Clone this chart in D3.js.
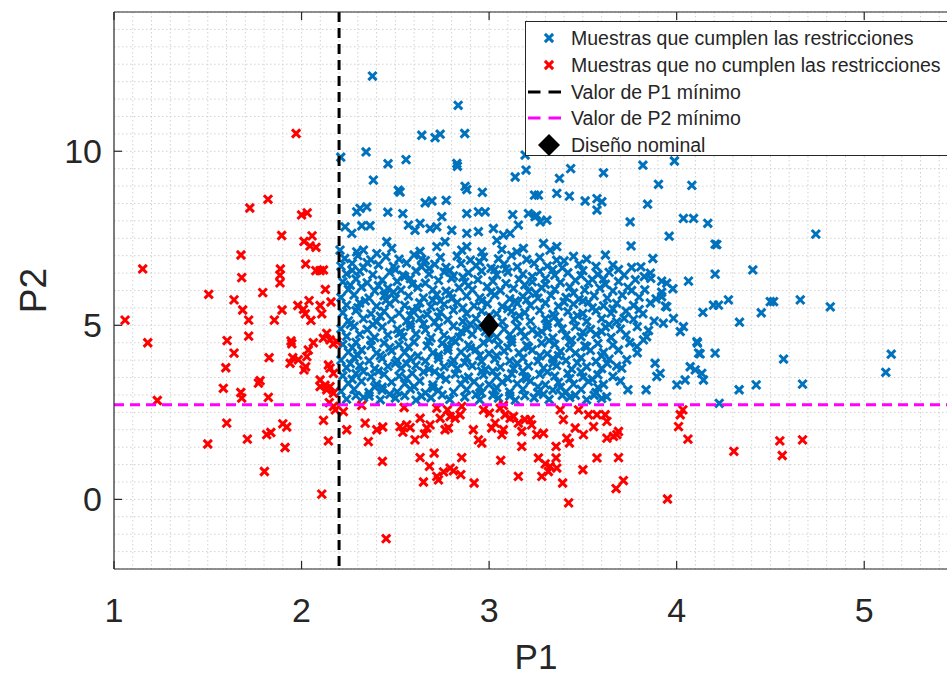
<!DOCTYPE html>
<html><head><meta charset="utf-8">
<script src="https://cdn.jsdelivr.net/npm/d3@7"></script>
<style>
body{margin:0;background:#fff}
svg{display:block}
text{font-family:"Liberation Sans",Arial,Helvetica,sans-serif;fill:#262626}
</style>
</head><body>
<svg id="c" width="947" height="678"></svg>
<script>
// ---------- data ----------
const xTicks = [1, 2, 3, 4, 5];
const yTicks = [0, 5, 10];
const xLabel = "P1";
const yLabel = "P2";
const p1Min = 2.2;
const p2Min = 2.72;
const nominal = [3, 5];
const legendLabels = [
  "Muestras que cumplen las restricciones",
  "Muestras que no cumplen las restricciones",
  "Valor de P1 mínimo",
  "Valor de P2 mínimo",
  "Diseño nominal"
];

// samples that violate the constraints (P1, P2)
const redPts = [
[1.971,10.51],[1.821,8.62],[1.724,8.37],[2.0,8.17],[2.03,8.23],[1.894,7.58],[2.056,7.57],[2.013,7.41],[2.045,7.28],[2.077,7.24],
[1.677,7.02],[2.022,6.76],[1.153,6.62],[1.887,6.62],[1.885,6.44],[1.885,6.22],[2.076,6.57],[2.099,6.57],[2.117,6.59],[1.681,6.37],
[1.505,5.89],[1.793,5.94],[1.64,5.73],[2.127,6.03],[2.157,5.67],[1.686,5.44],[1.718,5.15],[1.896,5.44],[1.855,5.15],[1.98,5.57],
[2.01,5.46],[2.04,5.71],[2.02,5.33],[2.05,5.14],[2.099,5.57],[2.108,5.33],[1.059,5.15],[1.718,4.69],[1.18,4.50],[1.603,4.56],
[1.64,4.20],[1.596,3.78],[1.944,4.55],[1.948,4.47],[1.827,4.07],[1.953,4.07],[1.939,3.91],[1.983,4.01],[2.028,4.10],[2.022,3.81],
[2.013,3.72],[2.036,4.29],[2.063,4.50],[2.134,4.77],[2.116,4.63],[2.152,4.58],[2.17,4.47],[2.188,4.53],[2.143,3.86],[2.152,3.77],
[2.17,3.62],[1.583,3.19],[1.779,3.41],[1.77,3.34],[1.676,3.07],[1.681,2.91],[1.823,2.93],[1.231,2.84],[2.099,3.43],[2.125,3.28],
[2.152,3.24],[2.099,3.24],[2.134,3.15],[2.17,3.05],[2.148,2.78],[2.17,2.67],
[1.50,1.59],[1.601,2.19],[1.711,1.73],[1.802,0.80],[1.814,1.86],[1.836,1.92],[1.90,2.17],[1.921,2.08],[1.912,1.49],[2.108,0.15],
[2.117,2.27],[2.143,1.68],[2.18,2.57],[2.223,2.52],[2.241,2.0],[2.321,2.70],[2.339,2.19],[2.356,1.66],[2.401,2.0],[2.433,2.08],
[2.431,1.09],[2.451,-1.13],[2.547,2.64],[2.525,2.09],[2.561,2.14],[2.54,1.93],[2.579,2.06],[2.605,1.71],[2.632,2.33],[2.668,2.05],
[2.655,1.88],[2.685,2.14],[2.632,1.20],[2.65,0.50],[2.682,0.95],[2.707,1.33],[2.721,2.62],[2.739,2.33],[2.765,2.0],[2.783,2.05],
[2.721,0.66],[2.73,0.56],[2.757,0.79],[2.792,0.90],[2.81,0.82],[2.849,0.71],[2.778,2.57],[2.792,2.38],[2.819,2.33],[2.845,2.43],
[2.854,2.67],[2.854,1.20],[2.92,0.47],[2.916,2.0],[2.943,1.71],[2.961,1.62],[2.97,2.57],[3.002,2.48],[3.014,2.05],[3.032,2.19],
[3.062,1.12],[3.068,1.86],[3.076,2.0],[3.059,2.62],[3.076,2.70],[3.085,2.43],[3.112,2.33],[3.13,2.38],[3.156,0.66],[3.156,2.19],
[3.174,1.95],[3.192,2.29],[3.174,1.52],[3.219,2.29],[3.227,2.14],[3.254,1.86],[3.29,1.90],[3.263,1.19],[3.299,1.02],[3.325,0.95],
[3.357,1.19],[3.361,0.90],[3.316,0.80],[3.281,0.66],[3.357,1.52],[3.379,2.57],[3.396,2.29],[3.392,0.47],[3.424,-0.10],[3.414,1.76],
[3.428,1.62],[3.459,2.05],[3.477,2.57],[3.503,1.86],[3.53,2.43],[3.557,2.09],[3.575,2.43],[3.50,0.85],[3.575,1.19],[3.619,2.43],
[3.628,2.24],[3.628,1.76],[3.663,1.81],[3.681,1.86],[3.69,1.95],[3.69,1.20],[3.677,0.31],[3.716,0.54],[3.951,0.01],[4.01,2.09],
[4.019,2.43],[4.033,2.57],[4.06,1.73],[4.305,1.38],[4.55,1.68],[4.563,1.26],[4.671,1.71]
];

// samples that satisfy the constraints: outer, sparse ones
const blueOuter = [
[2.378,12.16],[2.835,11.32],[2.641,10.46],[2.712,10.39],[2.739,10.49],[2.87,10.51],[2.209,9.83],[2.344,9.98],[2.461,9.64],[2.557,9.76],
[2.828,9.65],[2.831,9.57],[2.383,9.17],[2.516,8.88],[2.525,8.83],[2.872,8.99],[2.881,8.90],[2.964,8.82],[3.139,9.26],[3.197,9.46],
[3.192,9.89],[3.242,8.74],[3.263,8.74],[3.361,8.79],[2.312,8.36],[2.348,8.40],[2.294,8.26],[2.46,8.25],[2.54,8.21],[2.659,8.52],
[2.695,8.57],[2.771,8.59],[2.881,8.21],[2.943,8.26],[2.979,8.26],[3.126,8.18],[3.21,8.21],[3.254,8.16],[3.308,8.02],[2.232,7.83],
[2.268,7.64],[2.321,7.86],[2.365,7.86],[2.57,7.88],[2.605,7.73],[2.632,7.93],[2.685,7.78],[2.721,7.83],[2.748,8.12],[2.801,7.73],
[2.881,7.64],[2.943,7.69],[3.023,7.78],[3.076,7.59],[3.112,7.64],[3.156,7.88],
[2.205,7.16],[2.294,7.11],[2.33,7.16],[2.401,7.06],[2.454,7.40],[2.481,7.21],[2.632,7.12],[2.721,7.26],[2.765,7.40],[2.854,7.16],
[2.881,7.26],[2.961,7.11],[3.041,7.44],[3.068,7.18],[3.148,7.11],[3.183,7.21],[3.29,7.35],[3.325,7.16],[3.361,7.26],
[3.375,9.22],[3.435,9.50],[3.61,9.38],[3.82,9.60],[3.988,9.72],[3.903,9.05],[4.081,9.02],[3.428,8.71],[3.512,8.57],[3.575,8.64],
[3.601,8.55],[3.575,8.31],[3.845,8.48],[3.245,8.12],[3.272,7.97],[3.752,7.97],[4.036,8.07],[4.09,8.07],[4.166,7.93],[3.96,7.56],
[3.757,7.28],[4.205,7.33],[3.873,6.92],[3.809,6.68],[3.827,6.40],[3.862,6.35],[3.92,6.27],[3.947,6.21],[4.063,6.27],[4.205,6.47],
[3.92,5.82],[4.196,5.58],[4.223,5.58],[4.14,5.37],[3.983,5.20],[4.036,4.96],[4.019,4.82],[3.947,5.53],[3.929,5.06],[4.108,4.53],
[4.117,4.20],[4.205,4.20],[3.885,3.91],[3.894,3.53],[3.912,3.62],[4.001,3.29],[4.045,3.43],[4.072,3.81],[4.099,3.72],[4.134,3.62],
[4.143,3.43],[3.837,3.15],[3.627,2.95],[3.734,4.01],[3.707,3.77],[3.788,4.39],[3.823,4.58],
[4.742,7.62],[4.406,6.59],[4.276,5.73],[4.499,5.68],[4.517,5.68],[4.659,5.73],[4.819,5.53],[4.451,5.36],[4.335,5.09],[4.111,4.49],
[4.125,4.18],[4.57,4.03],[4.333,3.15],[4.424,3.29],[4.671,3.31],[4.227,2.76],[5.115,3.65],[5.144,4.17],[4.214,7.32]
];

// samples that satisfy the constraints: dense central cloud
const blueCore = [
[2.23,6.92],[2.30,7.00],[2.37,6.88],[2.45,6.97],[2.52,6.90],[2.60,7.02],[2.66,6.86],[2.74,6.95],[2.83,6.99],[2.90,6.87],[2.97,6.96],[3.05,6.91],[3.12,7.01],[3.20,6.89],[3.27,6.95],[3.36,6.87],[3.45,6.98],[3.52,6.90],[3.62,7.02],
[2.21,6.70],[2.27,6.78],[2.33,6.66],[2.41,6.74],[2.49,6.69],[2.56,6.79],[2.64,6.68],[2.71,6.75],[2.77,6.66],[2.85,6.77],[2.93,6.71],[3.01,6.64],[3.08,6.76],[3.15,6.68],[3.24,6.78],[3.31,6.70],[3.39,6.65],[3.48,6.76],[3.57,6.69],[3.66,6.73],[3.76,6.66],
[2.24,6.48],[2.31,6.55],[2.38,6.45],[2.47,6.52],[2.54,6.44],[2.61,6.56],[2.68,6.47],[2.76,6.53],[2.81,6.42],[2.89,6.51],[2.96,6.56],[3.04,6.45],[3.10,6.53],[3.18,6.47],[3.27,6.55],[3.35,6.44],[3.42,6.51],[3.50,6.57],[3.58,6.46],[3.64,6.52],[3.72,6.44],[3.86,6.50],
[2.22,6.25],[2.29,6.33],[2.35,6.22],[2.43,6.30],[2.51,6.26],[2.58,6.34],[2.66,6.21],[2.73,6.29],[2.80,6.35],[2.87,6.24],[2.94,6.31],[3.02,6.27],[3.09,6.20],[3.16,6.32],[3.23,6.25],[3.30,6.34],[3.38,6.23],[3.46,6.29],[3.53,6.22],[3.61,6.33],[3.69,6.26],[3.78,6.31],
[2.25,6.03],[2.32,6.10],[2.39,5.99],[2.46,6.07],[2.53,6.01],[2.62,6.09],[2.70,6.02],[2.77,5.98],[2.84,6.08],[2.91,6.02],[2.99,6.11],[3.06,6.00],[3.13,6.06],[3.21,5.98],[3.28,6.08],[3.35,6.03],[3.43,6.10],[3.51,6.01],[3.59,6.07],[3.66,5.99],[3.74,6.09],[3.83,6.02],[3.98,6.05],
[2.21,5.80],[2.28,5.87],[2.36,5.78],[2.44,5.85],[2.50,5.76],[2.57,5.84],[2.65,5.79],[2.72,5.88],[2.80,5.77],[2.88,5.84],[2.95,5.79],[3.03,5.87],[3.11,5.76],[3.18,5.83],[3.26,5.78],[3.33,5.86],[3.41,5.80],[3.48,5.75],[3.56,5.85],[3.63,5.78],[3.71,5.87],[3.80,5.81],[3.89,5.76],
[2.24,5.58],[2.31,5.64],[2.40,5.55],[2.47,5.62],[2.55,5.57],[2.63,5.65],[2.69,5.53],[2.76,5.60],[2.83,5.66],[2.92,5.56],[2.99,5.62],[3.07,5.54],[3.15,5.63],[3.22,5.57],[3.30,5.64],[3.37,5.55],[3.45,5.61],[3.53,5.66],[3.61,5.56],[3.68,5.63],[3.77,5.57],[3.86,5.64],[3.94,5.55],
[2.22,5.36],[2.29,5.42],[2.37,5.33],[2.44,5.40],[2.52,5.35],[2.59,5.43],[2.67,5.31],[2.74,5.38],[2.81,5.44],[2.88,5.34],[2.96,5.41],[3.04,5.33],[3.12,5.40],[3.19,5.36],[3.27,5.43],[3.34,5.32],[3.42,5.39],[3.50,5.34],[3.57,5.42],[3.65,5.35],[3.73,5.41],[3.82,5.33],
[2.25,5.13],[2.33,5.19],[2.40,5.10],[2.48,5.17],[2.56,5.12],[2.63,5.20],[2.71,5.09],[2.78,5.16],[2.86,5.11],[2.93,5.19],[3.07,5.10],[3.14,5.18],[3.22,5.12],[3.30,5.19],[3.37,5.08],[3.45,5.16],[3.52,5.11],[3.60,5.19],[3.68,5.10],[3.77,5.17],[3.88,5.12],
[2.21,4.90],[2.28,4.97],[2.35,4.88],[2.43,4.95],[2.51,4.89],[2.58,4.96],[2.66,4.87],[2.73,4.94],[2.81,4.98],[2.88,4.88],[2.94,4.95],[3.08,4.89],[3.15,4.96],[3.23,4.87],[3.31,4.94],[3.39,4.90],[3.46,4.97],[3.54,4.88],[3.62,4.95],[3.70,4.89],[3.79,4.96],
[2.24,4.68],[2.31,4.74],[2.39,4.65],[2.46,4.72],[2.54,4.67],[2.61,4.75],[2.69,4.64],[2.76,4.71],[2.84,4.66],[2.91,4.74],[3.04,4.66],[3.11,4.73],[3.19,4.68],[3.26,4.75],[3.34,4.64],[3.41,4.71],[3.49,4.67],[3.57,4.74],[3.65,4.65],[3.73,4.72],[3.84,4.67],
[2.22,4.45],[2.29,4.51],[2.37,4.42],[2.44,4.49],[2.52,4.44],[2.60,4.52],[2.67,4.41],[2.75,4.48],[2.82,4.53],[2.89,4.43],[2.97,4.50],[3.05,4.44],[3.12,4.51],[3.20,4.42],[3.28,4.49],[3.35,4.45],[3.43,4.52],[3.51,4.41],[3.58,4.48],[3.66,4.43],[3.75,4.50],
[2.25,4.23],[2.32,4.29],[2.40,4.20],[2.48,4.27],[2.55,4.22],[2.70,4.21],[2.78,4.28],[2.85,4.23],[2.93,4.30],[3.00,4.19],[3.08,4.26],[3.16,4.21],[3.23,4.29],[3.31,4.18],[3.38,4.25],[3.46,4.20],[3.54,4.28],[3.61,4.22],[3.69,4.29],[3.79,4.21],
[2.21,4.00],[2.28,4.07],[2.36,3.98],[2.43,4.05],[2.51,3.99],[2.58,4.06],[2.66,3.97],[2.73,4.04],[2.81,3.99],[2.88,4.07],[2.96,3.96],[3.03,4.03],[3.11,3.98],[3.18,4.06],[3.26,3.97],[3.34,4.04],[3.41,3.99],[3.49,4.07],[3.57,3.96],[3.64,4.03],
[2.24,3.78],[2.31,3.84],[2.39,3.75],[2.46,3.82],[2.53,3.77],[2.61,3.85],[2.68,3.74],[2.76,3.81],[2.83,3.76],[2.91,3.84],[2.98,3.73],[3.06,3.80],[3.13,3.75],[3.21,3.83],[3.29,3.77],[3.36,3.84],[3.44,3.74],[3.52,3.81],[3.60,3.76],[3.68,3.83],
[2.22,3.55],[2.29,3.61],[2.37,3.52],[2.44,3.59],[2.52,3.54],[2.59,3.62],[2.74,3.55],[2.82,3.60],[2.89,3.51],[2.97,3.58],[3.04,3.53],[3.12,3.61],[3.19,3.52],[3.27,3.59],[3.35,3.54],[3.42,3.62],[3.50,3.51],[3.58,3.58],[3.66,3.53],
[2.25,3.33],[2.32,3.39],[2.40,3.30],[2.48,3.37],[2.55,3.32],[2.63,3.40],[2.70,3.29],[2.85,3.31],[2.92,3.38],[3.00,3.30],[3.07,3.37],[3.15,3.32],[3.22,3.40],[3.30,3.29],[3.37,3.36],[3.45,3.31],[3.53,3.39],[3.61,3.30],
[2.21,3.10],[2.28,3.16],[2.36,3.07],[2.43,3.14],[2.51,3.09],[2.58,3.17],[2.66,3.06],[2.73,3.13],[2.81,3.08],[2.88,3.15],[2.96,3.06],[3.03,3.13],[3.11,3.08],[3.18,3.16],[3.26,3.07],[3.34,3.14],[3.41,3.09],[3.49,3.16],[3.57,3.07],
[2.24,2.88],[2.33,2.93],[2.42,2.86],[2.50,2.91],[2.61,2.85],[2.69,2.92],[2.79,2.87],[2.87,2.94],[2.95,2.86],[3.05,2.91],[3.14,2.85],[3.24,2.92],[3.32,2.87],[3.43,2.93],[3.52,2.86],[3.60,2.90],
[2.27,6.58],[2.41,6.14],[2.55,6.40],[2.68,6.63],[2.86,6.38],[3.03,6.60],[3.19,6.16],[3.34,6.60],[3.49,6.43],[2.34,5.70],[2.49,5.95],[2.62,5.48],
[2.79,5.91],[2.96,5.70],[3.10,5.48],[3.25,5.92],[3.40,5.67],[3.55,5.50],[2.26,5.03],[2.42,5.26],[2.58,5.05],[2.73,5.24],[2.90,5.03],[3.16,5.27],
[3.31,5.04],[3.47,5.28],[3.64,5.02],[2.37,4.57],[2.53,4.80],[2.68,4.54],[2.85,4.82],[3.00,4.60],[3.17,4.83],[3.32,4.56],[3.50,4.80],[2.30,4.14],
[2.47,4.36],[2.62,4.12],[2.78,4.37],[2.95,4.13],[3.10,4.36],[3.27,4.12],[3.43,4.35],[3.60,4.12],[2.33,3.68],[2.50,3.91],[2.65,3.66],[2.80,3.90],
[2.96,3.68],[3.15,3.91],[3.31,3.66],[3.47,3.92],[2.39,3.23],[2.56,3.47],[2.70,3.20],[2.87,3.45],[3.04,3.21],[3.20,3.46],[3.38,3.22],[3.55,3.45],
[2.29,2.98],[2.47,3.02],[2.64,2.97],[2.93,3.01],[3.11,2.97],[3.29,3.02],[3.46,2.99],[3.70,3.40],[3.74,3.15],[3.72,5.20],[3.80,5.45],[3.76,6.00],
[3.69,6.60],[3.92,5.95],[3.85,4.85],
[2.35,6.80],[2.50,6.60],[2.64,6.90],[2.79,6.58],[2.95,6.82],[3.09,6.62],[3.23,6.40],[3.40,6.85],[3.55,6.32],[2.26,6.15],[2.45,5.90],[2.59,6.18],
[2.74,5.70],[2.89,6.14],[3.01,5.95],[3.14,5.70],[3.30,6.18],[3.45,5.93],[3.62,6.18],[2.30,5.50],[2.45,5.72],[2.58,5.28],[2.70,5.72],[2.86,5.50],
[3.00,5.27],[3.20,5.73],[3.35,5.25],[3.50,5.70],[3.66,5.47],[2.38,5.02],[2.52,4.77],[2.65,5.04],[2.80,4.58],[2.98,4.82],[3.12,4.60],[3.28,4.82],
[3.44,4.58],[3.60,4.82],[2.27,4.36],[2.42,4.13],[2.57,4.38],[2.73,4.14],[2.90,4.35],[3.04,4.13],[3.21,4.37],[3.37,4.13],[3.52,4.38],[2.26,3.90],
[2.41,3.68],[2.56,3.90],[2.71,3.67],[2.87,3.92],[3.02,3.68],[3.18,3.68],[3.34,3.91],[3.49,3.66],[3.63,3.90],[2.27,3.45],[2.43,3.22],[2.60,3.24],
[2.77,3.45],[2.95,3.22],[3.10,3.47],[3.26,3.23],[3.43,3.47],[3.58,3.21],[2.36,2.97],[2.55,2.98],[2.75,3.00],[3.02,2.99],[3.19,2.98],[3.39,2.99],
[3.56,2.99]
];
const bluePts = blueOuter.concat(blueCore);

// ---------- layout ----------
const W = 947, H = 678;
const plot = {left: 114, right: 958, top: 12, bottom: 569};
const x = d3.scaleLinear().domain([1, 5.5]).range([plot.left, plot.right]);
const y = d3.scaleLinear().domain([-2, 14]).range([plot.bottom, plot.top]);

const svg = d3.select("#c");
svg.append("rect").attr("width", W).attr("height", H).attr("fill", "#fff");

svg.append("defs").append("clipPath").attr("id", "pc")
  .append("rect").attr("x", plot.left).attr("y", plot.top)
  .attr("width", plot.right - plot.left).attr("height", plot.bottom - plot.top);

// minor grid
const grid = svg.append("g").attr("stroke", "#d2d2d2").attr("stroke-width", 1)
  .attr("stroke-dasharray", "1.5,2.5");
grid.selectAll("line.gx").data(d3.range(11, 56).map(v => v / 10)).join("line")
  .attr("x1", d => x(d)).attr("x2", d => x(d)).attr("y1", plot.top).attr("y2", plot.bottom);
grid.selectAll("line.gy").data(d3.range(-4, 29).map(v => v / 2)).join("line")
  .attr("y1", d => y(d)).attr("y2", d => y(d)).attr("x1", plot.left).attr("x2", plot.right);

const pg = svg.append("g").attr("clip-path", "url(#pc)");
const xMark = "M-4.1,-4.1L4.1,4.1M-4.1,4.1L4.1,-4.1";

pg.append("g").selectAll("path").data(bluePts).join("path")
  .attr("d", xMark).attr("transform", d => `translate(${x(d[0])},${y(d[1])})`)
  .attr("fill", "none").attr("stroke", "#0072BD").attr("stroke-width", 3);
pg.append("g").selectAll("path").data(redPts).join("path")
  .attr("d", xMark).attr("transform", d => `translate(${x(d[0])},${y(d[1])})`)
  .attr("fill", "none").attr("stroke", "#FF0000").attr("stroke-width", 3);

pg.append("line").attr("x1", x(p1Min)).attr("x2", x(p1Min)).attr("y1", plot.top).attr("y2", plot.bottom)
  .attr("stroke", "#000").attr("stroke-width", 3).attr("stroke-dasharray", "10,6");
pg.append("line").attr("y1", y(p2Min)).attr("y2", y(p2Min)).attr("x1", plot.left).attr("x2", plot.right)
  .attr("stroke", "#FF00FF").attr("stroke-width", 3).attr("stroke-dasharray", "10,6");

const diamond = "M0,-12.5L10,0L0,12.5L-10,0Z";
pg.append("path").attr("d", diamond)
  .attr("transform", `translate(${x(nominal[0])},${y(nominal[1])})`).attr("fill", "#000");

// axes frame
const ax = svg.append("g").attr("stroke", "#262626").attr("stroke-width", 1.2);
ax.append("line").attr("x1", plot.left).attr("x2", plot.right).attr("y1", plot.bottom).attr("y2", plot.bottom);
ax.append("line").attr("x1", plot.left).attr("x2", plot.right).attr("y1", plot.top).attr("y2", plot.top);
ax.append("line").attr("x1", plot.left).attr("x2", plot.left).attr("y1", plot.top).attr("y2", plot.bottom);
ax.append("line").attr("x1", plot.right).attr("x2", plot.right).attr("y1", plot.top).attr("y2", plot.bottom);
xTicks.forEach(t => {
  ax.append("line").attr("x1", x(t)).attr("x2", x(t)).attr("y1", plot.bottom).attr("y2", plot.bottom - 8);
  ax.append("line").attr("x1", x(t)).attr("x2", x(t)).attr("y1", plot.top).attr("y2", plot.top + 8);
});
yTicks.forEach(t => {
  ax.append("line").attr("y1", y(t)).attr("y2", y(t)).attr("x1", plot.left).attr("x2", plot.left + 8);
  ax.append("line").attr("y1", y(t)).attr("y2", y(t)).attr("x1", plot.right).attr("x2", plot.right - 8);
});

svg.append("g").selectAll("text").data(xTicks).join("text")
  .attr("x", d => x(d)).attr("y", 622).attr("text-anchor", "middle")
  .attr("font-size", 34).text(d => d);
svg.append("g").selectAll("text").data(yTicks).join("text")
  .attr("x", 102).attr("y", d => y(d) + 12).attr("text-anchor", "end")
  .attr("font-size", 34).text(d => d);

svg.append("text").attr("x", (plot.left + plot.right) / 2).attr("y", 669)
  .attr("text-anchor", "middle").attr("font-size", 35).text(xLabel);
svg.append("text").attr("transform", `translate(46,${(plot.top + plot.bottom) / 2}) rotate(-90)`)
  .attr("text-anchor", "middle").attr("font-size", 37).text(yLabel);

// legend
const lg = svg.append("g");
lg.append("rect").attr("x", 525.5).attr("y", 21.5).attr("width", 440).attr("height", 134)
  .attr("fill", "#fff").attr("stroke", "#262626").attr("stroke-width", 1);
const rowY = [38, 65, 92, 118, 145];
const symX = 549;
lg.append("path").attr("d", xMark).attr("transform", `translate(${symX},${rowY[0]})`)
  .attr("fill", "none").attr("stroke", "#0072BD").attr("stroke-width", 3);
lg.append("path").attr("d", xMark).attr("transform", `translate(${symX},${rowY[1]})`)
  .attr("fill", "none").attr("stroke", "#FF0000").attr("stroke-width", 3);
lg.append("line").attr("x1", 528).attr("x2", 561).attr("y1", rowY[2]).attr("y2", rowY[2])
  .attr("stroke", "#000").attr("stroke-width", 3).attr("stroke-dasharray", "12.5,8");
lg.append("line").attr("x1", 528).attr("x2", 561).attr("y1", rowY[3]).attr("y2", rowY[3])
  .attr("stroke", "#FF00FF").attr("stroke-width", 3).attr("stroke-dasharray", "12.5,8");
lg.append("path").attr("d", "M0,-11L11,0L0,11L-11,0Z")
  .attr("transform", `translate(${symX},${rowY[4]})`).attr("fill", "#000");
lg.selectAll("text").data(legendLabels).join("text")
  .attr("x", 571).attr("y", (d, i) => rowY[i] + 7).attr("font-size", 19.5).text(d => d);
</script>
</body></html>
